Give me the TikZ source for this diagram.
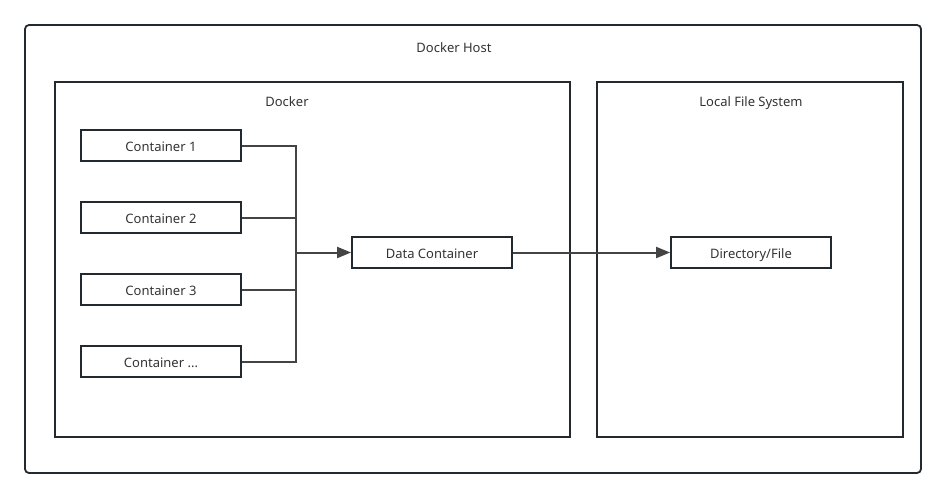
\documentclass[tikz,border=0pt]{standalone}
\usepackage{fontspec}
\setmainfont{Noto Sans}
\usetikzlibrary{arrows.meta}
\definecolor{bord}{HTML}{22292F}
\definecolor{conn}{HTML}{444444}
\definecolor{txt}{HTML}{333333}
\tikzset{
  frame/.style={draw=bord, line width=1.8pt},
  box/.style={draw=bord, line width=1.8pt, minimum width=160pt, minimum height=31pt, inner sep=0pt, text=txt, text height=11pt, text depth=0pt, font=\fontsize{13}{15}\selectfont},
  lbl/.style={text=txt, text height=11pt, text depth=0pt, font=\fontsize{13}{15}\selectfont, inner sep=0pt},
  link/.style={draw=conn, line width=2pt},
  arr/.style={link, -{Triangle[length=14pt,width=11pt]}},
}
\begin{document}
\begin{tikzpicture}[x=1pt,y=-1pt]
\useasboundingbox (0,0) rectangle (946,499);
\draw[frame, rounded corners=4pt] (25,25) rectangle (921,473);
\draw[frame] (55,82) rectangle (570,437);
\draw[frame] (597,82) rectangle (903,437);
\node[lbl] (host) at (454,47) {Docker Host};
\node[lbl] (dk) at (287,101) {Docker};
\node[lbl] (lfs) at (751,101) {Local File System};
\node[box] (c1) at (161,145.5) {Container 1};
\node[box] (c2) at (161,217.5) {Container 2};
\node[box] (c3) at (161,289.5) {Container 3};
\node[box] (c4) at (161,361.5) {Container ...};
\node[box] (dc) at (432,252.5) {Data Container};
\node[box] (df) at (751,252.5) {Directory/File};
\coordinate (m) at (296,252.5);
\draw[link] (c1.east) -| (m);
\draw[link] (c2.east) -| (m);
\draw[link] (c3.east) -| (m);
\draw[link] (c4.east) -| (m);
\draw[arr] (m) -- (dc.west);
\draw[arr] (dc.east) -- (df.west);
\end{tikzpicture}
\end{document}
